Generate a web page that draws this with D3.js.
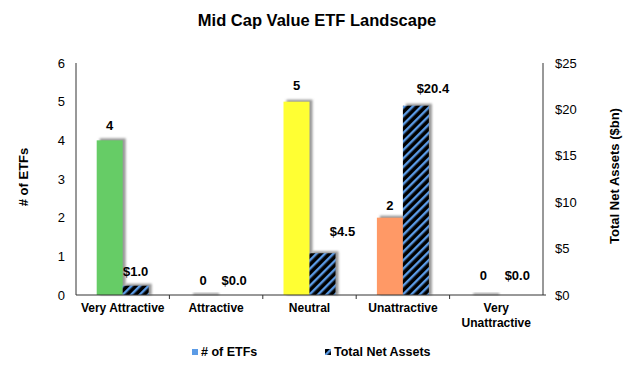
<!DOCTYPE html>
<html><head><meta charset="utf-8">
<script src="https://cdn.jsdelivr.net/npm/d3@7"></script>
<style>body{margin:0;background:#fff}svg{display:block;font-family:"Liberation Sans",Arial,sans-serif}</style>
</head><body>
<svg id="c" width="630" height="367"></svg>
<script>
const categories = ["Very Attractive", "Attractive", "Neutral", "Unattractive", "Very Unattractive"];
const etfCounts = [4, 0, 5, 2, 0];
const netAssets = [1.0, 0.0, 4.5, 20.4, 0.0];
const etfColors = ["#66CC66", "#66CC66", "#FFFF33", "#FF9966", "#66CC66"];
const leftTicks = [0, 1, 2, 3, 4, 5, 6];
const rightTicks = [0, 5, 10, 15, 20, 25];
// label nudges (styling)
const assetLabelDx = [0, 5, 20, 17, 8];
const assetLabelDy = [0, 0, -7, -3, -5];
const etfLabelDy = [0, 0, -2, 2, -5];

const svg = d3.select("#c");
const m = {l: 76, r: 543, t: 63, b: 295};
const x = d3.scaleBand().domain(categories).range([m.l, m.r]);
const yL = d3.scaleLinear().domain([0, 6]).range([m.b, m.t]);
const yR = d3.scaleLinear().domain([0, 25]).range([m.b, m.t]);
const bw = 26;

const defs = svg.append("defs");
const pat = defs.append("pattern").attr("id", "hatch").attr("patternUnits", "userSpaceOnUse")
  .attr("width", 6).attr("height", 6).attr("patternTransform", "rotate(45)");
pat.append("rect").attr("width", 6).attr("height", 6).attr("fill", "#000");
pat.append("rect").attr("width", 2.4).attr("height", 6).attr("fill", "#5B9BE6");
const f = defs.append("filter").attr("id", "blur").attr("x", "-20%").attr("y", "-20%").attr("width", "140%").attr("height", "140%");
f.append("feGaussianBlur").attr("stdDeviation", 0.8);

svg.append("text").attr("x", 317).attr("y", 26).attr("text-anchor", "middle")
  .attr("font-size", 16.5).attr("font-weight", "bold").text("Mid Cap Value ETF Landscape");

// shadows
const g = svg.append("g");
categories.forEach((c, i) => {
  const x0 = x(c) + x.bandwidth() / 2 - bw;
  const hE = m.b - yL(etfCounts[i]);
  g.append("rect").attr("x", x0 + 3).attr("y", yL(etfCounts[i]) - 2).attr("width", bw).attr("height", hE + 2)
    .attr("fill", "#999").attr("filter", "url(#blur)");
  if (netAssets[i] > 0) {
    const hA = m.b - yR(netAssets[i]);
    g.append("rect").attr("x", x0 + bw + 3).attr("y", yR(netAssets[i]) - 2).attr("width", bw).attr("height", hA + 2)
      .attr("fill", "#999").attr("filter", "url(#blur)");
  }
});
categories.forEach((c, i) => {
  const x0 = x(c) + x.bandwidth() / 2 - bw;
  if (etfCounts[i] > 0)
    g.append("rect").attr("x", x0).attr("y", yL(etfCounts[i])).attr("width", bw).attr("height", m.b - yL(etfCounts[i])).attr("fill", etfColors[i]);
  if (netAssets[i] > 0)
    g.append("rect").attr("x", x0 + bw).attr("y", yR(netAssets[i])).attr("width", bw).attr("height", m.b - yR(netAssets[i])).attr("fill", "url(#hatch)");
  svg.append("text").attr("x", x0 + bw / 2).attr("y", yL(etfCounts[i]) - 10 + etfLabelDy[i]).attr("text-anchor", "middle")
    .attr("font-size", 13).attr("font-weight", "bold").text(etfCounts[i]);
  svg.append("text").attr("x", x0 + bw * 1.5 + assetLabelDx[i]).attr("y", yR(netAssets[i]) - 10 + assetLabelDy[i]).attr("text-anchor", "middle")
    .attr("font-size", 13).attr("font-weight", "bold").text("$" + netAssets[i].toFixed(1));
});

// axes
const ax = "#333";
svg.append("line").attr("x1", m.l).attr("x2", m.l).attr("y1", m.t).attr("y2", m.b).attr("stroke", ax);
svg.append("line").attr("x1", m.r).attr("x2", m.r).attr("y1", m.t).attr("y2", m.b).attr("stroke", ax);
const xa = svg.append("g").attr("transform", `translate(0,${m.b})`)
  .call(d3.axisBottom(x).tickSize(0).tickFormat(""));
xa.select(".domain").attr("stroke", ax).attr("d", `M${m.l},0H${m.r + 3}`);
categories.slice(1).forEach(c => {
  svg.append("line").attr("x1", x(c)).attr("x2", x(c)).attr("y1", m.b).attr("y2", m.b + 4).attr("stroke", ax);
});
categories.forEach(c => {
  const t = svg.append("text").attr("x", x(c) + x.bandwidth() / 2).attr("y", m.b + 17).attr("text-anchor", "middle")
    .attr("font-size", 12).attr("font-weight", "bold");
  if (c === "Very Unattractive") {
    t.append("tspan").attr("x", x(c) + x.bandwidth() / 2).text("Very");
    t.append("tspan").attr("x", x(c) + x.bandwidth() / 2).attr("dy", 15).text("Unattractive");
  } else t.text(c);
});
const la = svg.append("g").attr("transform", `translate(${m.l},0)`)
  .call(d3.axisLeft(yL).tickValues(leftTicks).tickSize(0).tickPadding(11).tickFormat(d3.format("d")));
la.select(".domain").remove();
la.selectAll("text").attr("font-size", 13).attr("font-family", "Liberation Sans, Arial, sans-serif").attr("fill", "#000");
const ra = svg.append("g").attr("transform", `translate(${m.r},0)`)
  .call(d3.axisRight(yR).tickValues(rightTicks).tickSize(0).tickPadding(12).tickFormat(d => "$" + d));
ra.select(".domain").remove();
ra.selectAll("text").attr("font-size", 13).attr("font-family", "Liberation Sans, Arial, sans-serif").attr("fill", "#000");

svg.append("text").attr("transform", "translate(28,177) rotate(-90)").attr("text-anchor", "middle")
  .attr("font-size", 13).attr("font-weight", "bold").text("# of ETFs");
svg.append("text").attr("transform", "translate(619,176) rotate(-90)").attr("text-anchor", "middle")
  .attr("font-size", 13).attr("font-weight", "bold").text("Total Net Assets ($bn)");

// legend
svg.append("rect").attr("x", 192).attr("y", 349).attr("width", 6).attr("height", 6).attr("fill", "#5B9BE6");
svg.append("text").attr("x", 201).attr("y", 356).attr("font-size", 12.5).attr("font-weight", "bold").text("# of ETFs");
svg.append("rect").attr("x", 325).attr("y", 349).attr("width", 6).attr("height", 6).attr("fill", "url(#hatch)");
svg.append("text").attr("x", 334).attr("y", 356).attr("font-size", 12.5).attr("font-weight", "bold").text("Total Net Assets");
</script>
</body></html>
